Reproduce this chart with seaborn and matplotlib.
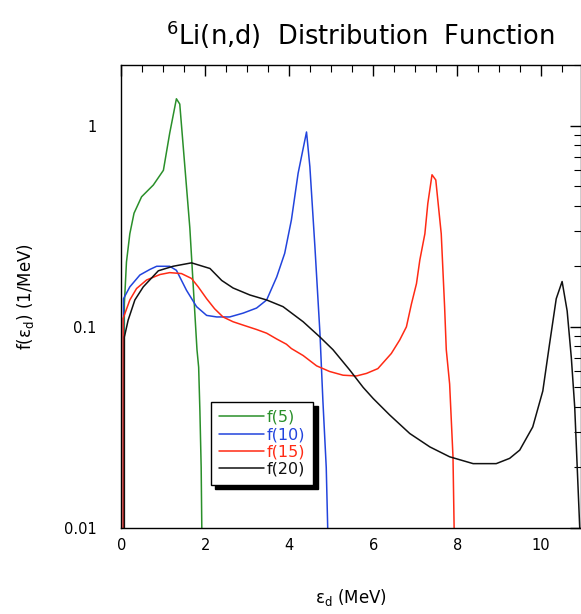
import numpy as np
import pandas as pd
import matplotlib
matplotlib.use("Agg")
import matplotlib.pyplot as plt
import seaborn as sns
from matplotlib.ticker import MultipleLocator, LogLocator, FixedLocator, FixedFormatter, NullFormatter

# ---- data ----
f5_x = [0.05, 0.07, 0.12, 0.2, 0.3, 0.48, 0.76, 1.0, 1.15, 1.31, 1.39, 1.63, 1.80, 1.84, 1.87, 1.90, 1.93]
f5_y = [0.001, 0.13, 0.21, 0.29, 0.367, 0.443, 0.507, 0.60, 0.917, 1.36, 1.28, 0.31, 0.077, 0.063, 0.038, 0.02, 0.005]

f10_x = [0.05, 0.05, 0.2, 0.44, 0.68, 0.84, 1.15, 1.31, 1.55, 1.79, 2.03, 2.27, 2.58, 2.9, 3.22, 3.46,
         3.70, 3.89, 4.05, 4.21, 4.41, 4.49, 4.61, 4.73, 4.80, 4.88, 4.95]
f10_y = [0.001, 0.138, 0.158, 0.181, 0.193, 0.2, 0.2, 0.191, 0.152, 0.126, 0.114, 0.112, 0.112, 0.117, 0.124, 0.136,
         0.177, 0.232, 0.34, 0.58, 0.93, 0.625, 0.25, 0.093, 0.043, 0.02, 0.005]

f15_x = [0.04, 0.04, 0.2, 0.36, 0.6, 0.92, 1.15, 1.43, 1.67, 1.83, 2.03, 2.22, 2.42, 2.66, 2.90, 3.22, 3.46,
         3.70, 3.93, 4.05, 4.33, 4.65, 4.96, 5.28, 5.6, 5.84, 6.11, 6.43, 6.63, 6.79, 6.91, 7.03, 7.11, 7.23,
         7.30, 7.40, 7.49, 7.62, 7.70, 7.74, 7.82, 7.90, 7.95]
f15_y = [0.001, 0.11, 0.136, 0.155, 0.171, 0.182, 0.186, 0.184, 0.174, 0.158, 0.138, 0.123, 0.112, 0.106, 0.102, 0.097, 0.093,
         0.087, 0.082, 0.078, 0.072, 0.064, 0.06, 0.0575, 0.057, 0.0587, 0.062, 0.0737, 0.086, 0.1, 0.13, 0.164, 0.215, 0.29,
         0.41, 0.57, 0.537, 0.29, 0.126, 0.077, 0.052, 0.0226, 0.005]

f20_x = [0.07, 0.07, 0.16, 0.32, 0.52, 0.88, 1.23, 1.67, 2.11, 2.39, 2.66, 3.06, 3.46, 3.85, 4.33, 4.73, 5.04,
         5.44, 5.76, 6.0, 6.39, 6.87, 7.35, 7.82, 8.38, 8.93, 9.25, 9.49, 9.80, 10.04, 10.20, 10.36, 10.5, 10.62,
         10.72, 10.8, 10.92, 10.95]
f20_y = [0.001, 0.089, 0.108, 0.136, 0.158, 0.19, 0.2, 0.208, 0.195, 0.17, 0.156, 0.144, 0.136, 0.126, 0.106, 0.089, 0.077,
         0.061, 0.050, 0.044, 0.0365, 0.0295, 0.0253, 0.0226, 0.0209, 0.0209, 0.0222, 0.0244, 0.0318, 0.048, 0.082, 0.138, 0.168, 0.12,
         0.07, 0.04, 0.01, 0.005]

series_labels = ["f(5)", "f(10)", "f(15)", "f(20)"]
series_colors = ["#2a8f2a", "#2244dd", "#ff2a14", "#111111"]
series = [(f5_x, f5_y), (f10_x, f10_y), (f15_x, f15_y), (f20_x, f20_y)]

ytick_vals = [0.01, 0.1, 1]
ytick_labels = ["0.01", "0.1", "1"]

# ---- figure ----
sns.set_style("white")
plt.rcParams["font.family"] = ["DejaVu Sans"]
plt.rcParams["mathtext.fontset"] = "dejavusans"
plt.rcParams["text.color"] = "black"
plt.rcParams["axes.labelcolor"] = "black"
plt.rcParams["xtick.color"] = "black"
plt.rcParams["ytick.color"] = "black"

fig = plt.figure(figsize=(5.81, 6.14), dpi=100)
ax = fig.add_axes([0.209, 0.140, 0.791, 0.754])

for (xs, ys), lab, col in zip(series, series_labels, series_colors):
    df = pd.DataFrame({"x": xs, "y": ys})
    sns.lineplot(data=df, x="x", y="y", ax=ax, color=col, lw=1.1, label=lab,
                 sort=False, estimator=None)

ax.set_yscale("log")
ax.set_xlim(0, 10.95)
ax.set_ylim(0.01, 2.0)

ax.xaxis.set_major_locator(MultipleLocator(2))
ax.xaxis.set_minor_locator(MultipleLocator(0.5))
ax.yaxis.set_major_locator(FixedLocator(ytick_vals))
ax.yaxis.set_major_formatter(FixedFormatter(ytick_labels))
ax.yaxis.set_minor_locator(LogLocator(base=10, subs=np.arange(2, 10)))
ax.yaxis.set_minor_formatter(NullFormatter())

ax.tick_params(which="both", direction="in", top=True, right=True, colors="black",
               labelsize=10.5)
ax.tick_params(which="major", length=8, width=1)
ax.tick_params(which="minor", length=5, width=0.8)
ax.tick_params(axis="y", which="major", pad=18)
ax.tick_params(axis="x", which="major", pad=7)

for sp in ax.spines.values():
    sp.set_color("black")
    sp.set_linewidth(1.0)

ax.set_xlabel(r"ε$_\mathregular{d}$ (MeV)", fontsize=12, labelpad=25)
ax.set_ylabel(r"f(ε$_\mathregular{d}$) (1/MeV)", fontsize=12, labelpad=20)

fig.text(0.62, 0.944, r"$^{6}$Li(n,d)  Distribution  Function", fontsize=18.5,
         ha="center", va="center", color="black")

leg = ax.legend(loc="lower left", bbox_to_anchor=(0.195, 0.093), fontsize=11.5,
                labelcolor="linecolor", frameon=True, fancybox=False,
                edgecolor="black", handlelength=2.8, handletextpad=0.2,
                labelspacing=0.15, borderpad=0.5, borderaxespad=0,
                shadow={"ox": 3, "oy": -3, "facecolor": "black", "edgecolor": "black", "alpha": 1})
leg.get_frame().set_linewidth(1.0)

fig.savefig("out.png", dpi=100, facecolor="white")
